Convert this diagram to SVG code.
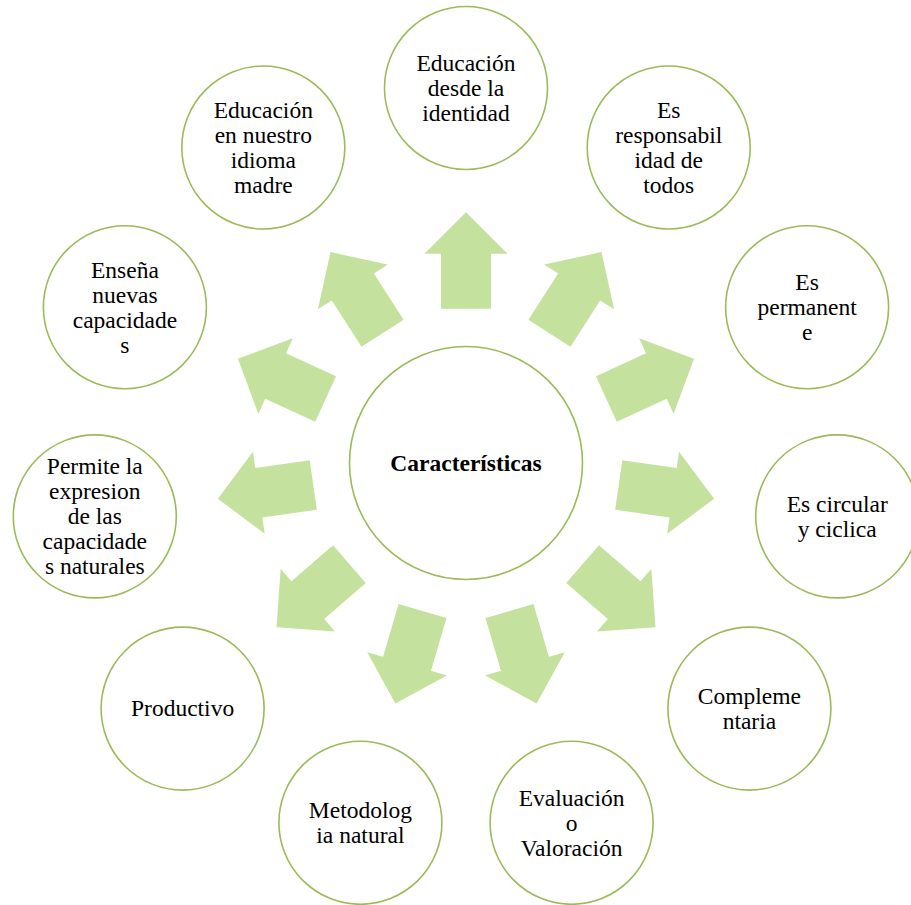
<svg xmlns="http://www.w3.org/2000/svg" xmlns:xlink="http://www.w3.org/1999/xlink" width="911" height="905" viewBox="0 0 911 905">
<style>
.c{fill:#ffffff;stroke:#9BBB59;stroke-width:1.6}
.a{fill:#C4E29D;stroke:none}
text{font-family:'Liberation Serif','Times New Roman',Times,'DejaVu Serif',serif;font-size:23.5px;fill:#000000;text-anchor:middle}
.b{font-weight:bold}
</style>
<defs>
<path id="arr" d="M154.3,-25 L209.3,-25 L209.3,-41.5 L250.7,0 L209.3,41.5 L209.3,25 L154.3,25 Z"/>
</defs>
<rect width="911" height="905" fill="#ffffff"/>
<g id="connectors" class="a">
<use xlink:href="#arr" transform="translate(466,463) rotate(-90)"/>
<use xlink:href="#arr" transform="translate(466,463) rotate(-57.273)"/>
<use xlink:href="#arr" transform="translate(466,463) rotate(-24.545)"/>
<use xlink:href="#arr" transform="translate(466,463) rotate(8.182)"/>
<use xlink:href="#arr" transform="translate(466,463) rotate(40.909)"/>
<use xlink:href="#arr" transform="translate(466,463) rotate(73.636)"/>
<use xlink:href="#arr" transform="translate(466,463) rotate(106.364)"/>
<use xlink:href="#arr" transform="translate(466,463) rotate(139.091)"/>
<use xlink:href="#arr" transform="translate(466,463) rotate(171.818)"/>
<use xlink:href="#arr" transform="translate(466,463) rotate(204.545)"/>
<use xlink:href="#arr" transform="translate(466,463) rotate(237.273)"/>
</g>
<g font-family="Liberation Serif, Times New Roman, serif">
<g id="center">
<circle class="c" cx="466" cy="463" r="116.5"/>
<text class="b" x="466" y="471">Características</text>
</g>
<g id="n1">
<circle class="c" cx="466" cy="88" r="81.5"/>
<text x="466" y="71">Educación</text>
<text x="466" y="96">desde la</text>
<text x="466" y="121">identidad</text>
</g>
<g id="n2">
<circle class="c" cx="668.7" cy="147.5" r="81.5"/>
<text x="668.7" y="118">Es</text>
<text x="668.7" y="143">responsabil</text>
<text x="668.7" y="168">idad de</text>
<text x="668.7" y="193">todos</text>
</g>
<g id="n3">
<circle class="c" cx="807.1" cy="307.2" r="81.5"/>
<text x="807.1" y="290">Es</text>
<text x="807.1" y="315">permanent</text>
<text x="807.1" y="340">e</text>
</g>
<g id="n4">
<circle class="c" cx="837.2" cy="516.4" r="81.5"/>
<text x="837.2" y="512">Es circular</text>
<text x="837.2" y="537">y ciclica</text>
</g>
<g id="n5">
<circle class="c" cx="749.4" cy="708.6" r="81.5"/>
<text x="749.4" y="704">Compleme</text>
<text x="749.4" y="729">ntaria</text>
</g>
<g id="n6">
<circle class="c" cx="571.6" cy="822.8" r="81.5"/>
<text x="571.6" y="806">Evaluación</text>
<text x="571.6" y="831">o</text>
<text x="571.6" y="856">Valoración</text>
</g>
<g id="n7">
<circle class="c" cx="360.4" cy="822.8" r="81.5"/>
<text x="360.4" y="818">Metodolog</text>
<text x="360.4" y="843">ia natural</text>
</g>
<g id="n8">
<circle class="c" cx="182.6" cy="708.6" r="81.5"/>
<text x="182.6" y="716">Productivo</text>
</g>
<g id="n9">
<circle class="c" cx="94.8" cy="516.4" r="81.5"/>
<text x="94.8" y="474">Permite la</text>
<text x="94.8" y="499">expresion</text>
<text x="94.8" y="524">de las</text>
<text x="94.8" y="549">capacidade</text>
<text x="94.8" y="574">s naturales</text>
</g>
<g id="n10">
<circle class="c" cx="124.9" cy="307.2" r="81.5"/>
<text x="124.9" y="278">Enseña</text>
<text x="124.9" y="303">nuevas</text>
<text x="124.9" y="328">capacidade</text>
<text x="124.9" y="353">s</text>
</g>
<g id="n11">
<circle class="c" cx="263.3" cy="147.5" r="81.5"/>
<text x="263.3" y="118">Educación</text>
<text x="263.3" y="143">en nuestro</text>
<text x="263.3" y="168">idioma</text>
<text x="263.3" y="193">madre</text>
</g>
</g>
</svg>
